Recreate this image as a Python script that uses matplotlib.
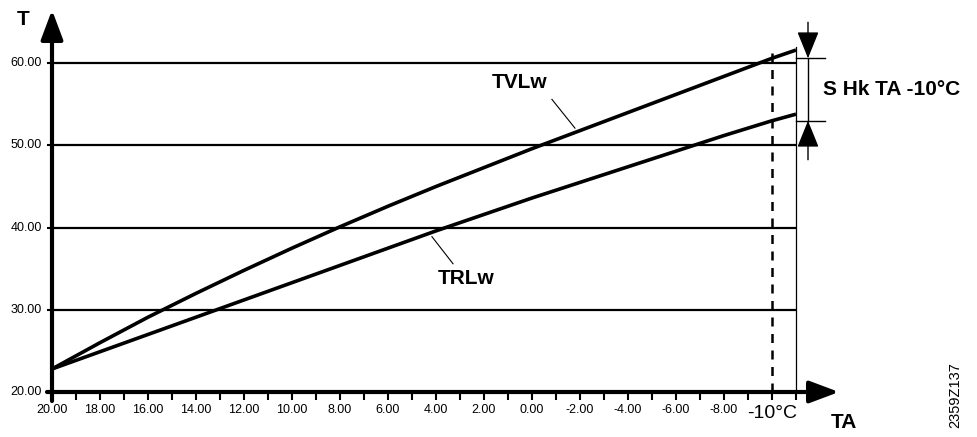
import numpy as np
import matplotlib
matplotlib.use("Agg")
import matplotlib.pyplot as plt

plt.rcParams["font.family"] = ["Liberation Sans", "DejaVu Sans"]

# outside temperature TA (°C) and heating-curve temperatures T (°C)
ta = np.array([20, 18, 16, 14, 12, 10, 8, 6, 4, 2, 0, -2, -4, -6, -8, -10, -11])
tvlw = np.array([22.8, 26.0, 29.1, 32.0, 34.8, 37.5, 40.1, 42.6, 45.0, 47.3,
                 49.6, 51.8, 54.0, 56.2, 58.4, 60.6, 61.6])
trlw = np.array([22.8, 24.9, 27.0, 29.1, 31.2, 33.3, 35.4, 37.5, 39.6, 41.6,
                 43.6, 45.5, 47.4, 49.3, 51.2, 53.0, 53.8])

y_ticks = [20, 30, 40, 50, 60]
x_ticks = list(range(20, -12, -1))
x_labels = list(range(20, -9, -2))
ta_design = -10
ta_end = -11

# pixel -> data scale (24 px per K on TA, 8.22 px per K on T)
PX_X = 24.0
PX_Y = 8.22

fig = plt.figure(figsize=(9.78, 4.37), dpi=100)
ax = fig.add_axes([0, 0, 1, 1])
ax.set_xlim(20 + 52 / PX_X, 20 - 926 / PX_X)
ax.set_ylim(20 - 45 / PX_Y, 20 + 392 / PX_Y)
ax.axis("off")

K = "black"

# horizontal grid lines
for v in y_ticks[1:]:
    ax.plot([20, ta_end], [v, v], color=K, lw=1.6, solid_capstyle="butt")

# axes with arrow heads
arrow = dict(arrowstyle="-|>,head_length=0.4,head_width=0.15", color=K,
             lw=3, mutation_scale=45, shrinkA=0, shrinkB=0)
ax.annotate("", xy=(20 - 787 / PX_X, 20), xytext=(20 + 5 / PX_X, 20),
            arrowprops=arrow)
ax.annotate("", xy=(20, 20 + 382 / PX_Y), xytext=(20, 20 - 9 / PX_Y),
            arrowprops=arrow)

# ticks
ax.vlines(x_ticks, 20 - 8 / PX_Y, 20, color=K, lw=1.5)
ax.hlines(y_ticks, 20 + 5 / PX_X, 20, color=K, lw=1.5)
for v in y_ticks:
    ax.text(20 + 10 / PX_X, v, f"{v:.2f}", ha="right", va="center", fontsize=9)
for v in x_labels:
    ax.text(v, 20 - 18 / PX_Y, f"{v:.2f}", ha="center", va="center", fontsize=9)
ax.text(ta_design, 20 - 22 / PX_Y, "-10°C", ha="center", va="center", fontsize=14)

ax.text(20 + 29 / PX_X, 20 + 372 / PX_Y, "T", ha="center", va="center",
        fontsize=15, fontweight="bold")
ax.text(20 - 792 / PX_X, 20 - 31 / PX_Y, "TA", ha="center", va="center",
        fontsize=15, fontweight="bold")

# heating curves
ax.plot(ta, tvlw, color=K, lw=2.6, solid_capstyle="butt")
ax.plot(ta, trlw, color=K, lw=2.6, solid_capstyle="butt")

# curve labels with leader lines
ax.plot([-1.79, -0.83], [52.1, 55.6], color=K, lw=0.8)
ax.text(0.5, 57.6, "TVLw", ha="center", va="center", fontsize=15, fontweight="bold")
ax.plot([4.17, 3.29], [38.9, 35.6], color=K, lw=0.8)
ax.text(2.75, 33.75, "TRLw", ha="center", va="center", fontsize=15, fontweight="bold")

# design point TA = -10 °C
top = tvlw[ta == ta_design][0]
bot = trlw[ta == ta_design][0]
ax.plot([ta_design, ta_design], [20, top + 0.6], color=K, lw=1.8,
        dashes=(3.6, 3.0))
ax.plot([ta_end, ta_end], [20, 62], color=K, lw=0.9)

# span marker between flow and return at design point
x_s = 20 - 756 / PX_X
x_r = 20 - 773 / PX_X
for v in (top, bot):
    ax.plot([ta_end, x_r], [v, v], color=K, lw=1.0)
ax.plot([x_s, x_s], [bot, top], color=K, lw=1.0)
small = dict(arrowstyle="-|>,head_length=0.42,head_width=0.17", color=K,
             lw=1.0, mutation_scale=40, shrinkA=0, shrinkB=0)
ax.annotate("", xy=(x_s, top), xytext=(x_s, top + 36 / PX_Y), arrowprops=small)
ax.annotate("", xy=(x_s, bot), xytext=(x_s, bot - 39 / PX_Y), arrowprops=small)
ax.text(20 - 771 / PX_X, (top + bot) / 2, "S Hk TA -10°C", ha="left",
        va="center", fontsize=15, fontweight="bold")

ax.text(20 - 903 / PX_X, 20 - 3 / PX_Y, "2359Z137", rotation=90,
        ha="center", va="center", fontsize=10.5)

fig.savefig("out.png", dpi=100, facecolor="white")
